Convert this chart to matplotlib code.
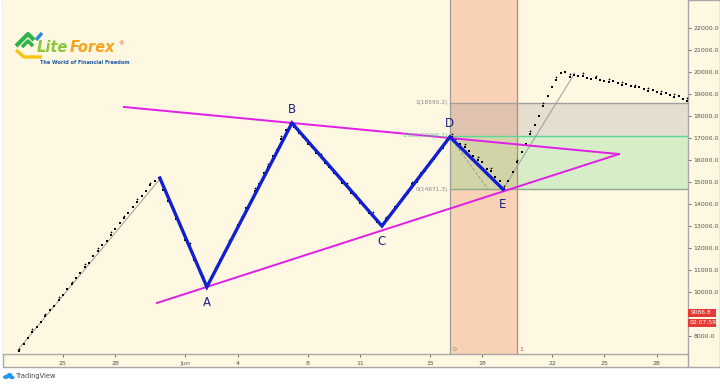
import numpy as np
import matplotlib
matplotlib.use("Agg")
import matplotlib.pyplot as plt
from matplotlib.lines import Line2D
from matplotlib.patches import Rectangle, Ellipse

# time axis: days counted from May 25, one bar every 6 hours
tick_pos = [0, 3, 7, 10, 14, 17, 21, 24, 28, 31, 34]
tick_labels = ['25', '28', 'Jun', '4', '8', '11', '15', '18', '22', '25', '28']
# 9000.0 is hidden behind the last-price label
price_ticks = [8000, 10000, 11000, 12000, 13000, 14000, 15000,
               16000, 17000, 18000, 19000, 20000, 21000, 22000]

bar_start = -2.5
closes = [
    7300, 7650, 7900, 8180, 8390, 8650, 8900, 9180, 9370, 9650, 9880, 10150,
    10350, 10650, 10870, 11150, 11330, 11650, 11860, 12150, 12330, 12600,
    12850, 13150, 13350, 13600, 13850, 14100, 14350, 14600, 14850, 15050, 15200,
    14650, 14150, 13900, 13300, 12950, 12350, 12100, 11450, 11200, 10600, 10230,
    10650, 11000, 11450, 11780, 12250, 12550, 13050, 13350, 13800, 14100,
    14600, 14900, 15400, 15700, 16200, 16450, 16950, 17350, 17680,
    17500, 17250, 17050, 16750, 16600, 16300, 16150, 15850, 15700, 15400,
    15300, 14950, 14850, 14500, 14400, 14050, 13950, 13600, 13500, 13180, 13000,
    13300, 13480, 13850, 13990, 14350, 14500, 14900, 15020, 15400, 15500,
    15900, 16050, 16400, 16550, 16900, 17050,
    16950, 16750, 16600, 16400, 16200, 16000, 15900, 15600, 15500, 15250,
    15050, 14700,
    15050, 15450, 15900, 16350, 16750, 17200, 17600, 18000, 18450, 18900,
    19300, 19650, 19950, 20000, 19780,
    19850, 19800, 19830, 19750, 19700, 19720, 19640, 19600, 19560, 19580,
    19480, 19420, 19450, 19350, 19300, 19320, 19230, 19150, 19180, 19080,
    19020, 19050, 18950, 18880, 18900, 18780, 18700,
]
bar_days = bar_start + 0.25 * np.arange(len(closes))

# Elliott triangle A-E
wave_x = [5.55, 8.24, 13.11, 18.26, 22.15, 25.19]
wave_y = [15180, 10230, 17680, 13000, 17050, 14670]
wave_names = ['', 'A', 'B', 'C', 'D', 'E']

# trend lines of the triangle
upper_x = [3.49, 31.83]
upper_y = [18410, 16270]
lower_x = [5.38, 31.83]
lower_y = [9500, 16270]

# fibonacci retracement
fib_levels = [18595.2, 17096.2, 14671.3]
fib_names = ['1(18595.2)', '0.618(17096.2)', '0(14671.3)']
fib_start = 22.15

# time range band
band_x = [22.15, 25.99]

W, H = 720, 384
fig = plt.figure(figsize=(W / 100, H / 100), dpi=100)
fig.patch.set_facecolor('white')
cream = '#FEF7E1'


def fx(x):
    return x / W


def fy(y):
    return 1 - y / H


# chart panel background incl. axes areas
fig.add_artist(Rectangle((fx(3), fy(367)), fx(717), 367 / H, facecolor=cream,
                         edgecolor='#A8A8A8', lw=1, transform=fig.transFigure, zorder=0))

ax = fig.add_axes([fx(3), fy(354), fx(685), 354 / H])
ax.set_facecolor(cream)
ax.set_xlim(-3.43, 35.78)
ax.set_ylim(7182, 23273)

# time band
ax.axvspan(band_x[0], band_x[1], color='#F08C64', alpha=0.35, lw=0, zorder=1)
ax.axvline(band_x[0], color='#9A9A9A', lw=0.9, zorder=2)
ax.axvline(band_x[1], color='#D27C6C', lw=0.9, zorder=2)
ax.text(band_x[0] + 0.15, 7330, '0', fontsize=4.5, color='#888888', zorder=6)
ax.text(band_x[1] + 0.15, 7330, '1', fontsize=4.5, color='#E53935', zorder=6)

# fib zones
x_end = 35.78
ax.fill_between([fib_start, x_end], fib_levels[1], fib_levels[0], color='#A0A0A0',
                alpha=0.28, lw=0, zorder=1)
ax.fill_between([fib_start, x_end], fib_levels[2], fib_levels[1], color='#7CD98C',
                alpha=0.3, lw=0, zorder=1)
fib_colors = ['#A0A0A0', '#5FD39A', '#8FA88F']
label_colors = ['#888888', '#5FCB95', '#888888']
for lvl, name, c, lc in zip(fib_levels, fib_names, fib_colors, label_colors):
    ax.plot([fib_start, x_end], [lvl, lvl], color=c, lw=1, zorder=2)
    ax.text(fib_start - 0.12, lvl, name, fontsize=4.2, color=lc, ha='right',
            va='center', zorder=6)

# thin helper lines
ax.plot([-2.58, 5.55], [7364, 15136], color='#9A9A9A', lw=0.7, zorder=3)
ax.plot([25.19, 29.3], [14670, 19950], color='#9A9A9A', lw=0.7, zorder=3)
ax.plot([22.15, 24.33], [17050, 14680], color='#9A9A9A', lw=0.7, ls=(0, (3, 2)), zorder=3)

# price bars as dots
ax.scatter(bar_days, closes, s=3, marker='s', color='black', lw=0, zorder=4)
ax.scatter(bar_days[::3], np.array(closes[::3]) + 120, s=4, marker='+', color='black',
           lw=0.5, zorder=4)

# triangle
ax.plot(upper_x, upper_y, color='#E11EE6', lw=1.4, zorder=5)
ax.plot(lower_x, lower_y, color='#E11EE6', lw=1.4, zorder=5)
ax.plot(wave_x, wave_y, color='#1020D0', lw=2.4, zorder=5, solid_joinstyle='miter')
offsets = {'A': -1, 'B': 1, 'C': -1, 'D': 1, 'E': -1}
for x, y, n in zip(wave_x, wave_y, wave_names):
    if not n:
        continue
    dy = 330 if offsets[n] > 0 else -400
    ax.text(x, y + dy, n, fontsize=8.5, color='#1A237E', ha='center',
            va='bottom' if offsets[n] > 0 else 'top', zorder=6)

# axes styling
ax.yaxis.tick_right()
ax.set_yticks(price_ticks)
ax.set_yticklabels([f'{p:.1f}' for p in price_ticks])
ax.set_xticks(tick_pos)
ax.set_xticklabels(tick_labels)
ax.tick_params(axis='both', labelsize=4.5, colors='#555555', length=2, width=0.6, pad=3)
ax.tick_params(axis='y', pad=2)
for s in ['top', 'left']:
    ax.spines[s].set_visible(False)
for s in ['bottom', 'right']:
    ax.spines[s].set_color('#A8A8A8')
    ax.spines[s].set_linewidth(1)
fig.add_artist(Line2D([fx(688), fx(688)], [fy(354), fy(367)], color='#A8A8A8', lw=1,
                      transform=fig.transFigure))

# last price labels
tf = fig.transFigure
fig.add_artist(Rectangle((fx(688), fy(317)), fx(28), 8 / H, fc='#E53935', ec='none',
                         transform=tf, zorder=5))
fig.add_artist(Rectangle((fx(688), fy(326.5)), fx(28), 8 / H, fc='#E53935', ec='none',
                         transform=tf, zorder=5))
fig.text(fx(691), fy(313), '9086.8', fontsize=4.3, color='white', va='center', zorder=6)
fig.text(fx(690), fy(322.5), '02:07:59', fontsize=4.3, color='white', va='center', zorder=6)

# LiteForex logo
fig.add_artist(Line2D([fx(16), fx(28), fx(34)], [fy(46), fy(34), fy(40)], color='#2DB34A',
                      lw=3, transform=tf, solid_capstyle='butt'))
fig.add_artist(Line2D([fx(22), fx(28), fx(33)], [fy(47), fy(41), fy(46)], color='#2DB34A',
                      lw=2.5, transform=tf, solid_capstyle='butt'))
fig.add_artist(Line2D([fx(36), fx(42)], [fy(40), fy(33)], color='#2D8CE0', lw=2.5,
                      transform=tf, solid_capstyle='butt'))
fig.add_artist(Line2D([fx(16), fx(24), fx(42)], [fy(50), fy(57), fy(57)], color='#F5C518',
                      lw=2.5, transform=tf, solid_capstyle='butt'))
fig.text(fx(37), fy(52), 'Lite', fontsize=10.5, fontweight='bold', style='italic',
         color='#8CC63F', va='baseline')
fig.text(fx(70), fy(52), 'Forex', fontsize=10.5, fontweight='bold', style='italic',
         color='#F7A31C', va='baseline')
fig.text(fx(118), fy(45), '®', fontsize=4, color='#E53935')
fig.text(fx(40), fy(62), 'The World of Financial Freedom', fontsize=3.6,
         fontweight='bold', color='#1E5AA8', va='center')

# TradingView footer
for cx, cy, w, h in [(6, 377, 6, 4), (9.5, 375.5, 6, 5), (12, 377.5, 5, 3.5)]:
    fig.add_artist(Ellipse((fx(cx), fy(cy)), fx(w), h / H, fc='#2196F3', ec='none',
                           transform=tf))
fig.text(fx(16), fy(376), 'TradingView', fontsize=4.8, color='#444444', va='center')

fig.savefig('out.png', dpi=100, facecolor='white')
